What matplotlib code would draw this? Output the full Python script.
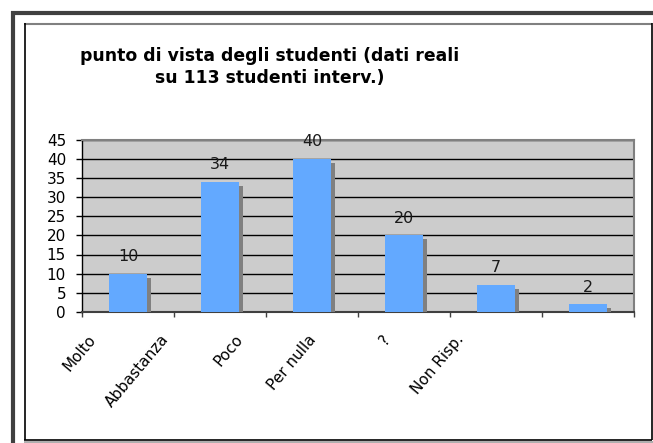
import numpy as np
import matplotlib
matplotlib.use("Agg")
import matplotlib.pyplot as plt
import matplotlib.patheffects as pe
from matplotlib.transforms import ScaledTranslation

categories = ["Molto", "Abbastanza", "Poco", "Per nulla", "?", "Non Risp."]
values = [10, 34, 40, 20, 7, 2]
yticks = [0, 5, 10, 15, 20, 25, 30, 35, 40, 45]
title = "punto di vista degli studenti (dati reali\nsu 113 studenti interv.)"

W, H = 653, 443
plt.rcParams['font.family'] = ['DejaVu Sans']

fig = plt.figure(figsize=(W / 100, H / 100), dpi=100)
fig.patch.set_facecolor('white')


def fx(px):
    return px / W


def fy(py):
    return 1 - py / H


def frame_line(xs, ys, color, lw):
    fig.add_artist(plt.Line2D([fx(v) for v in xs], [fy(v) for v in ys],
                              color=color, lw=lw, solid_capstyle='butt'))


# outer dark border (top and left) and inner chart frame
frame_line([13, 13], [11, 443], '#404040', 3)
frame_line([11, 653], [13, 13], '#404040', 3)
frame_line([24, 652], [23.5, 23.5], '#808080', 1.5)
frame_line([24.5, 24.5], [23, 440], 'black', 1.2)
frame_line([651.5, 651.5], [23, 440], 'black', 1.2)
frame_line([24, 652], [439.8, 439.8], 'black', 1.2)
frame_line([24, 653], [441.5, 441.5], '#a0a0a0', 1.2)

fig.text(fx(270), fy(67), title, ha='center', va='center', fontsize=12.4,
         fontweight='bold', linespacing=1.25, color='black')

ax = fig.add_axes([fx(82), fy(312), fx(634) - fx(82), (312 - 139.5) / H])
ax.set_facecolor('#cccccc')

x = np.arange(len(categories))
bars = ax.bar(x, values, width=0.41, color='#63a9ff', zorder=3)
for b in bars:
    b.set_path_effects([pe.SimplePatchShadow(offset=(3, -3), shadow_rgbFace='#808080', alpha=1.0),
                        pe.Normal()])

for xi, v in zip(x, values):
    ax.annotate(str(v), (xi, v), xytext=(0, 9.2), textcoords='offset points',
                ha='center', va='baseline', fontsize=11.5, color='#1a1a1a', zorder=4)

ax.set_xlim(-0.5, len(categories) - 0.5)
ax.set_ylim(0, 45)
ax.set_yticks(yticks)
ax.yaxis.grid(True, color='black', lw=1, zorder=1)
ax.set_axisbelow(True)
ax.tick_params(axis='y', direction='out', length=4.5, width=1, pad=7, labelsize=11,
               colors='black')

ax.set_xticks(np.arange(len(categories) + 1) - 0.5)
ax.set_xticklabels([])
ax.tick_params(axis='x', direction='out', length=3.6, width=1, color='#404040')

for s in ['top', 'right']:
    ax.spines[s].set_color('#808080')
    ax.spines[s].set_linewidth(1.5)
ax.spines['left'].set_color('black')
ax.spines['left'].set_linewidth(1)
ax.spines['bottom'].set_color('#404040')
ax.spines['bottom'].set_linewidth(1.5)

# rotated category labels, placed as in the original export
lab_tr = ax.get_xaxis_transform() + ScaledTranslation(0, -0.20, fig.dpi_scale_trans)
for i, cat in enumerate(categories):
    ax.text(i * 0.8 - 0.32, 0, cat, transform=lab_tr, rotation=50,
            ha='right', va='top', fontsize=11, color='black', clip_on=False)

fig.savefig("out.png", dpi=100)
